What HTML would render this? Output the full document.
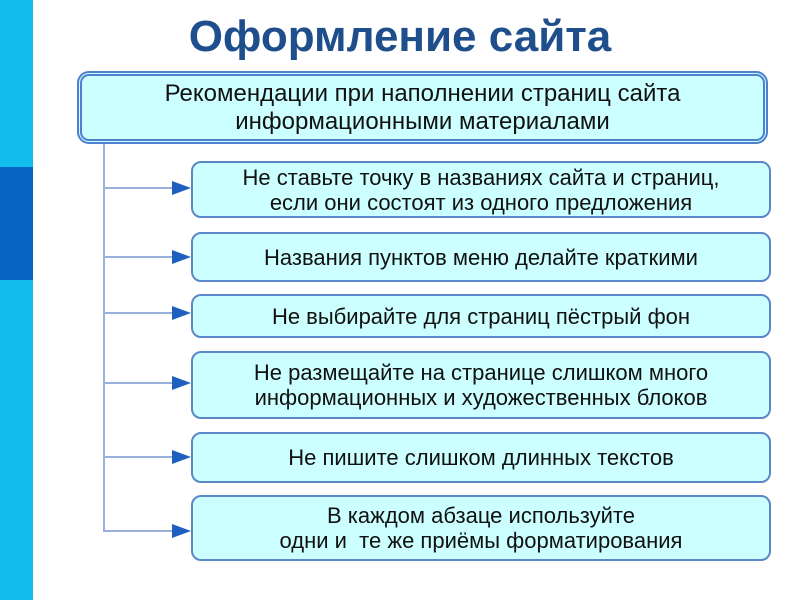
<!DOCTYPE html>
<html><head><meta charset="utf-8"><style>
body{margin:0;width:800px;height:600px;background:#fff;position:relative;overflow:hidden;font-family:"Liberation Sans",sans-serif}
.bar{position:absolute;left:0;width:33px}
.t{position:absolute;left:0;width:800px;top:12px;text-align:center;font-size:44px;font-weight:bold;color:#1f4e8c}
.b{position:absolute;left:191px;width:580px;background:#ccffff;border:2px solid #5b87c8;border-radius:10px;display:flex;align-items:center;justify-content:center;text-align:center;font-size:22px;line-height:25px;color:#111;box-sizing:border-box;white-space:nowrap}
.top{left:77px;top:71px;width:691px;height:73px;border:5px double #4f7fcf;border-radius:12px;font-size:24px;line-height:28px}
.h{position:absolute;left:104px;width:70px;height:2px;background:#9ab0dc}
.ar{position:absolute;left:172px;width:0;height:0;border-top:7px solid transparent;border-bottom:7px solid transparent;border-left:19px solid #1f5fbf}
</style></head><body>
<div class="bar" style="top:0;height:167px;background:#12bcec"></div>
<div class="bar" style="top:167px;height:113px;background:#0563c1"></div>
<div class="bar" style="top:280px;height:320px;background:#12bcec"></div>
<div class="t">Оформление сайта</div>
<div class="b top">Рекомендации при наполнении страниц сайта<br>информационными материалами</div>
<div style="position:absolute;left:103px;top:144px;width:2px;height:388px;background:#9ab0dc"></div>
<div class="h" style="top:187px"></div><div class="ar" style="top:181px"></div>
<div class="h" style="top:256px"></div><div class="ar" style="top:250px"></div>
<div class="h" style="top:312px"></div><div class="ar" style="top:306px"></div>
<div class="h" style="top:382px"></div><div class="ar" style="top:376px"></div>
<div class="h" style="top:456px"></div><div class="ar" style="top:450px"></div>
<div class="h" style="top:530px"></div><div class="ar" style="top:524px"></div>
<div class="b" style="top:161px;height:57px">Не ставьте точку в названиях сайта и страниц,<br>если они состоят из одного предложения</div>
<div class="b" style="top:232px;height:50px">Названия пунктов меню делайте краткими</div>
<div class="b" style="top:294px;height:44px">Не выбирайте для страниц пёстрый фон</div>
<div class="b" style="top:351px;height:68px">Не размещайте на странице слишком много<br>информационных и художественных блоков</div>
<div class="b" style="top:432px;height:51px">Не пишите слишком длинных текстов</div>
<div class="b" style="top:495px;height:66px">В каждом абзаце используйте<br>одни и&nbsp; те же приёмы форматирования</div>
</body></html>
